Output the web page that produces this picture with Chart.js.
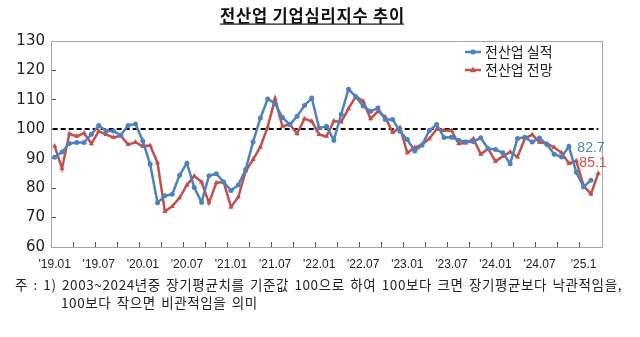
<!DOCTYPE html>
<html>
<head>
<meta charset="utf-8">
<script src="https://cdn.jsdelivr.net/npm/chart.js@4.4.1/dist/chart.umd.min.js"></script>
<style>
	html, body { margin: 0; padding: 0; background: #fff; }
</style>
</head>
<body>
<canvas id="ChartBsi" width="640" height="337"></canvas>
<script>
// --------------
// DATA
// --------------
const tickLabels = ["'19.01", "'19.07", "'20.01", "'20.07", "'21.01", "'21.07", "'22.01", "'22.07", "'23.01", "'23.07", "'24.01", "'24.07", "'25.1"];

// 2019.01 ~ 2025.03 monthly
const labelsBsi = [];
for (let y = 2019; y <= 2025; y++) {
	for (let m = 1; m <= 12; m++) {
		if (y === 2025 && m > 3) break;
		labelsBsi.push(y + "." + String(m).padStart(2, "0"));
	}
}

// 전산업 실적 (to 2025.02)
const dataActual = [
	90.5, 92.3, 95.2, 95.5, 95.5, 98.3, 101.3, 99.4, 99.4, 98.0, 101.3, 101.8,
	96.0, 88.1, 75.0, 77.4, 77.9, 84.4, 88.5, 80.2, 75.2, 84.2, 84.9, 82.1,
	79.2, 81.1, 86.3, 95.7, 103.8, 110.3, 108.7, 104.0, 101.6, 104.4, 108.1, 110.6,
	100.4, 101.0, 96.3, 105.1, 113.6, 111.0, 107.9, 106.1, 107.2, 103.3, 103.3, 99.3,
	96.5, 92.6, 94.6, 99.6, 101.6, 97.2, 97.3, 96.3, 95.8, 95.8, 97.1, 93.4,
	93.1, 92.0, 88.3, 96.9, 97.3, 95.7, 97.0, 94.8, 91.5, 90.6, 94.2, 85.4,
	80.4, 82.7,
];

// 전산업 전망 (to 2025.03)
const dataOutlook = [
	94.3, 86.7, 98.5, 97.6, 98.7, 95.1, 99.4, 98.2, 97.2, 97.8, 94.8, 95.6,
	94.2, 94.5, 88.6, 72.1, 73.8, 76.7, 81.1, 84.1, 82.1, 75.0, 81.8, 82.1,
	73.6, 77.0, 85.8, 89.7, 94.0, 100.8, 110.4, 101.0, 101.7, 98.5, 103.6, 102.7,
	98.2, 97.6, 102.8, 102.5, 107.0, 111.2, 109.5, 103.6, 106.1, 104.2, 98.9, 100.6,
	92.0, 93.8, 94.8, 96.8, 100.0, 99.6, 99.6, 95.1, 95.3, 96.8, 91.5, 93.4,
	89.1, 90.8, 92.3, 90.6, 96.8, 98.2, 95.6, 95.2, 93.8, 92.0, 88.4, 89.3,
	80.8, 78.0, 85.1,
];

const baseValue = 100;
const titleText = "전산업 기업심리지수 추이";
const noteLines = [
	"주 : 1) 2003~2024년중 장기평균치를 기준값 100으로 하여 100보다 크면 장기평균보다 낙관적임을,",
	"100보다 작으면 비관적임을 의미",
];

const BLUE = "rgb(79,129,189)";
const RED = "rgb(192,80,77)";
const KR = "'Noto Sans CJK KR', 'Noto Sans', sans-serif";

// --------------
// PLUGINS
// --------------
const markerAt = (ctx, style, x, y, color) => {
	ctx.fillStyle = color;
	ctx.beginPath();
	if (style === "triangle") {
		ctx.moveTo(x, y - 3.5);
		ctx.lineTo(x + 3.2, y + 2.3);
		ctx.lineTo(x - 3.2, y + 2.3);
		ctx.closePath();
	} else {
		ctx.arc(x, y, 2.6, 0, Math.PI * 2);
	}
	ctx.fill();
};

// stretch the gaps between words so a line spans the given width, returns the gap used
const fillSpaced = (ctx, text, x, y, width, letter) => {
	ctx.letterSpacing = letter + "px";
	ctx.wordSpacing = "0px";
	const w = ctx.measureText(text).width;
	const gaps = text.split(" ").length - 1;
	const ws = gaps > 0 ? Math.max(0, (width - w) / gaps) : 0;
	ctx.wordSpacing = ws + "px";
	ctx.fillText(text, x, y);
	return ws;
};

const framePlugin = {
	id: "frame",
	beforeDatasetsDraw(chart) {
		const { ctx, chartArea: a, scales } = chart;
		ctx.save();
		// plot box
		ctx.strokeStyle = "#a6a6a6";
		ctx.lineWidth = 1;
		ctx.strokeRect(a.left + 0.5, a.top + 0.5, a.right - a.left, a.bottom - a.top);
		// 기준선 100
		const y = Math.round(scales.y.getPixelForValue(baseValue));
		ctx.strokeStyle = "#000";
		ctx.lineWidth = 2;
		ctx.setLineDash([5, 3]);
		ctx.beginPath();
		ctx.moveTo(scales.x.getPixelForValue(0) - 2, y);
		ctx.lineTo(scales.x.getPixelForValue(labelsBsi.length - 1), y);
		ctx.stroke();
		ctx.restore();
	},
};

const textPlugin = {
	id: "texts",
	afterDraw(chart) {
		const { ctx, scales } = chart;
		ctx.save();

		// title (underlined)
		ctx.font = "bold 16.5px " + KR;
		ctx.fillStyle = "#111";
		ctx.textBaseline = "middle";
		ctx.textAlign = "left";
		fillSpaced(ctx, titleText, 220, 16, 184, 0.8);
		ctx.letterSpacing = "0px";
		ctx.wordSpacing = "0px";
		ctx.fillRect(220, 23.5, 184, 1.2);

		// legend
		const legendItems = [
			{ text: "전산업 실적", color: BLUE, style: "circle", y: 52 },
			{ text: "전산업 전망", color: RED, style: "triangle", y: 70 },
		];
		ctx.font = "14px " + KR;
		legendItems.forEach((it) => {
			ctx.strokeStyle = it.color;
			ctx.lineWidth = 2.5;
			ctx.beginPath();
			ctx.moveTo(465, it.y);
			ctx.lineTo(481, it.y);
			ctx.stroke();
			markerAt(ctx, it.style, 473, it.y, it.color);
			ctx.fillStyle = "#222";
			ctx.fillText(it.text, 485, it.y);
		});

		// last values
		ctx.font = "14px 'Liberation Sans', Arial, sans-serif";
		ctx.textAlign = "center";
		const lx = scales.x.getPixelForValue(labelsBsi.length - 2);
		ctx.fillStyle = BLUE;
		ctx.fillText(dataActual[dataActual.length - 1].toFixed(1), lx, scales.y.getPixelForValue(93.6));
		ctx.fillStyle = RED;
		ctx.fillText(dataOutlook[dataOutlook.length - 1].toFixed(1), lx + 2, scales.y.getPixelForValue(88.4));

		// footnote
		ctx.textAlign = "left";
		ctx.fillStyle = "#222";
		ctx.font = "13.5px " + KR;
		const ws = fillSpaced(ctx, noteLines[0], 15, 285, 607, 0.6);
		ctx.wordSpacing = ws + "px";
		ctx.fillText(noteLines[1], 61, 303);
		ctx.restore();
	},
};

// --------------
// CONFIG CHART
// --------------
const setBsiChart = () => {
	const dataBsi = {
		labels: labelsBsi,
		datasets: [
			{
				label: "전산업 실적",
				data: dataActual,
				borderColor: BLUE,
				backgroundColor: BLUE,
				borderWidth: 2.5,
				pointStyle: "circle",
				pointRadius: 2.5,
				pointBorderWidth: 0,
			},
			{
				label: "전산업 전망",
				data: dataOutlook,
				borderColor: RED,
				backgroundColor: RED,
				borderWidth: 2.5,
				pointStyle: "triangle",
				pointRadius: 3,
				pointBorderWidth: 0,
			},
		],
	};

	const configBsi = {
		type: "line",
		data: dataBsi,
		options: {
			responsive: false,
			animation: false,
			layout: {
				padding: { left: 0, top: 41, right: 38, bottom: 65 },
			},
			plugins: {
				legend: { display: false },
				tooltip: { enabled: false },
			},
			scales: {
				x: {
					offset: true,
					grid: {
						offset: true,
						drawOnChartArea: false,
						tickLength: -5,
						color: (c) => (c.type === "tick" && c.index % 3 === 0 ? "#555" : "rgba(0,0,0,0)"),
					},
					border: { color: "#555", width: 1 },
					ticks: {
						autoSkip: false,
						maxRotation: 0,
						padding: 15,
						color: "#222",
						font: { family: "'Liberation Sans', Arial, sans-serif", size: 12 },
						callback: (v, i) => (i % 6 === 0 ? tickLabels[i / 6] : ""),
					},
					afterFit: (s) => { s.height = 25; },
				},
				y: {
					min: 60,
					max: 130,
					grid: {
						drawOnChartArea: false,
						tickLength: -5,
						color: "#555",
					},
					border: { color: "#555", width: 1 },
					ticks: {
						stepSize: 10,
						padding: 11,
						color: "#222",
						font: { family: "'DejaVu Sans', sans-serif", size: 15 },
					},
					afterFit: (s) => { s.width = 51; },
				},
			},
		},
		plugins: [framePlugin, textPlugin],
	};

	const ChartBsi = new Chart(
		document.getElementById("ChartBsi"),
		configBsi
	);
};

setBsiChart();
</script>
</body>
</html>
